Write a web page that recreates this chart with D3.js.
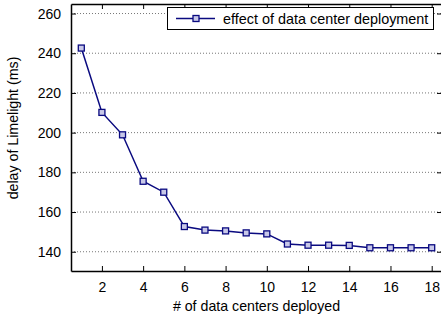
<!DOCTYPE html>
<html><head><meta charset="utf-8">
<script src="https://cdn.jsdelivr.net/npm/d3@7"></script>
<style>body{margin:0;background:#fff}svg{display:block;font-family:"Liberation Sans",Arial,sans-serif}</style>
</head><body><svg id="c" width="441" height="320"></svg>
<script>
const dataCenters = [1,2,3,4,5,6,7,8,9,10,11,12,13,14,15,16,17,18];
const delays = [242.6,210.2,198.9,175.5,170.0,152.7,150.9,150.5,149.5,149.0,143.9,143.3,143.3,143.2,142.0,142.0,142.0,142.0];
const xTicks = [2,4,6,8,10,12,14,16,18];
const yTicks = [140,160,180,200,220,240,260];
const seriesName = "effect of data center deployment";
const xLabel = "# of data centers deployed";
const yLabel = "delay of Limelight (ms)";

const svg = d3.select("#c");
const L = 71, R = 442, T = 4, B = 271;
const x = d3.scaleLinear().domain([0.5, 18.5]).range([L, R]);
const y = d3.scaleLinear().domain([130.3, 264.8]).range([B, T]);
const navy = "#0a0a80";

// grid
svg.append("g").selectAll("line").data(yTicks).join("line")
  .attr("x1", L).attr("x2", R).attr("y1", d => y(d)).attr("y2", d => y(d))
  .attr("stroke", "#777").attr("stroke-width", 1).attr("stroke-dasharray", "1,2");

// axes with inward ticks
const fs = "14px";
const ax = (g) => g.selectAll("path").attr("stroke", "#000").attr("stroke-width", 1.5);
svg.append("g").attr("transform", `translate(0,${B})`)
  .call(d3.axisBottom(x).tickValues(xTicks).tickSizeInner(-5).tickSizeOuter(0).tickPadding(11))
  .call(ax).call(g => g.selectAll("text").attr("font-size", fs).attr("fill", "#000"))
  .call(g => g.selectAll(".tick line").attr("stroke", "#000"));
svg.append("g").attr("transform", `translate(0,${T})`)
  .call(d3.axisTop(x).tickValues(xTicks).tickSizeInner(-5).tickSizeOuter(0).tickFormat(""))
  .call(ax).call(g => g.selectAll(".tick line").attr("stroke", "#000"));
svg.append("g").attr("transform", `translate(${L},0)`)
  .call(d3.axisLeft(y).tickValues(yTicks).tickSizeInner(-5).tickSizeOuter(0).tickPadding(10))
  .call(ax).call(g => g.selectAll("text").attr("font-size", fs).attr("fill", "#000"))
  .call(g => g.selectAll(".tick line").attr("stroke", "#000"));
svg.append("g").attr("transform", `translate(${R},0)`)
  .call(d3.axisRight(y).tickValues(yTicks).tickSizeInner(-5).tickSizeOuter(0).tickFormat(""))
  .call(ax).call(g => g.selectAll(".tick line").attr("stroke", "#000"));

// line
const pts = dataCenters.map((d, i) => [d, delays[i]]);
svg.append("path").datum(pts)
  .attr("d", d3.line().x(d => x(d[0])).y(d => y(d[1])))
  .attr("fill", "none").attr("stroke", navy).attr("stroke-width", 1.5);
svg.append("g").selectAll("rect").data(pts).join("rect")
  .attr("x", d => x(d[0]) - 3).attr("y", d => y(d[1]) - 3)
  .attr("width", 6).attr("height", 6)
  .attr("fill", "#c8c8e8").attr("stroke", navy).attr("stroke-width", 1.3);

// legend
const lg = svg.append("g");
lg.append("rect").attr("x", 167.5).attr("y", 7.5).attr("width", 266).attr("height", 22)
  .attr("fill", "#fff").attr("stroke", "#000").attr("stroke-width", 1);
lg.append("line").attr("x1", 176).attr("x2", 215).attr("y1", 18.5).attr("y2", 18.5)
  .attr("stroke", navy).attr("stroke-width", 1.5);
lg.append("rect").attr("x", 193).attr("y", 15.5).attr("width", 6).attr("height", 6)
  .attr("fill", "#c8c8e8").attr("stroke", navy).attr("stroke-width", 1.3);
lg.append("text").attr("x", 223).attr("y", 23.5).attr("font-size", "14.4px").text(seriesName);

// axis labels
svg.append("text").attr("x", (L + R) / 2).attr("y", 311).attr("text-anchor", "middle")
  .attr("font-size", "14.2px").text(xLabel);
svg.append("text").attr("transform", "translate(18,128) rotate(-90)").attr("text-anchor", "middle")
  .attr("font-size", "14.2px").text(yLabel);
</script></body></html>
